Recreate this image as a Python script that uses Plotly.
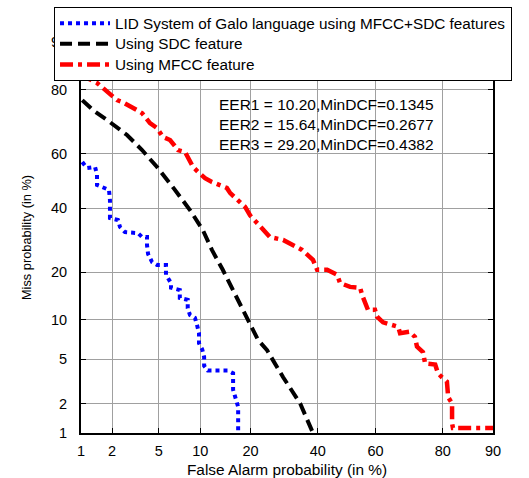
import plotly.graph_objects as go
from statistics import NormalDist

nd = NormalDist()
def probit(p_percent):
    return nd.inv_cdf(p_percent / 100.0)

# ---- data (percent) ----
blue_fa = [1.03, 1.15, 1.38, 1.44, 1.44, 1.65, 1.87, 1.91, 1.91, 2.26, 2.36, 2.61, 3.38, 3.66, 4.02, 4.02,
           4.10, 4.42, 4.84, 5.68, 5.68, 6.2, 6.2, 7.2, 7.2, 8.2, 8.2, 8.5, 9.2, 9.5, 9.8, 9.8,
           10.3, 10.6, 10.6, 11.2, 14.9, 16.0, 16.0, 17.1, 17.1]
blue_miss = [56.9, 54.7, 55.1, 52.2, 48.5, 47.7, 46.7, 43.0, 36.6, 35.9, 33.5, 31.8, 31.5, 30.2, 30.2, 27.7,
             25.0, 22.7, 21.9, 21.9, 19.3, 17.3, 16.2, 15.7, 14.0, 13.6, 12.0, 10.8, 10.3, 9.2, 8.0, 6.7,
             6.0, 5.2, 4.4, 4.0, 4.0, 3.8, 2.7, 1.85, 1.0]

black_fa = [1.03, 1.32, 1.91, 2.72, 3.66, 4.84, 6.4, 8.5, 10.4, 11.9, 13.9, 16.0, 19.2, 21.9, 24.3, 28.9, 34.2, 38.4]
black_miss = [77.2, 74.3, 70.6, 66.4, 61.2, 55.1, 47.7, 39.4, 32.5, 26.2, 20.6, 15.7, 10.5, 7.1, 5.9, 3.5, 2.0, 1.0]

red_fa = [1.0, 1.10, 1.44, 1.72, 1.91, 2.22, 2.46, 2.72, 3.32, 3.66, 4.25, 4.84, 5.39, 6.10, 6.98, 7.85, 8.24,
          8.93, 9.66, 10.75, 11.9, 13.4, 14.7, 15.4, 16.9, 18.7, 19.9, 23.2, 25.1, 28.9, 31.9, 34.8, 37.4,
          38.4, 39.8, 43.2, 46.7, 47.7, 51.2, 54.7, 55.4, 56.4, 57.4, 59.8, 60.5, 62.5, 64.8, 67.4, 68.0,
          71.0, 72.5, 73.1, 74.8, 75.4, 78.1, 78.8, 79.8, 81.0, 81.3, 82.2, 82.2, 82.4, 90.0]
red_miss = [84.0, 83.1, 81.7, 79.9, 78.6, 77.2, 76.7, 75.8, 74.3, 73.4, 70.3, 68.7, 65.7, 64.7, 61.2, 60.5, 58.4,
            55.1, 53.3, 51.0, 49.6, 48.5, 47.4, 45.5, 43.0, 40.5, 37.5, 32.5, 30.2, 29.3, 27.7, 26.2, 24.1,
            23.3, 20.6, 20.6, 19.3, 17.3, 16.4, 16.2, 14.6, 13.0, 11.7, 11.7, 10.5, 9.6, 9.2, 8.9, 8.0,
            8.2, 7.5, 6.3, 5.7, 4.6, 4.5, 3.8, 3.5, 3.2, 2.3, 2.0, 1.27, 1.13, 1.13]

tick_vals = [1, 2, 5, 10, 20, 40, 60, 80, 90]
tick_text = ["1", "2", "5", "10", "20", "40", "60", "80", "90"]

names = ["LID System of Galo language using MFCC+SDC features", "Using SDC feature", "Using MFCC feature"]
eer_text = ["EER1 = 10.20,MinDCF=0.1345", "EER2 = 15.64,MinDCF=0.2677", "EER3 = 29.20,MinDCF=0.4382"]
x_title = "False Alarm probability (in %)"
y_title = "Miss probability (in %)"

FONT = "Arial, Liberation Sans, sans-serif"

def legend_label(s):
    return '<span style="font-size:15.3px">' + s + '</span>'

fig = go.Figure()
fig.add_trace(go.Scatter(x=[probit(v) for v in blue_fa], y=[probit(v) for v in blue_miss], mode="lines",
                         name=legend_label(names[0]), line=dict(color="#0000ff", width=4, dash="4px,4px")))
fig.add_trace(go.Scatter(x=[probit(v) for v in black_fa], y=[probit(v) for v in black_miss], mode="lines",
                         name=legend_label(names[1]), line=dict(color="#000000", width=4, dash="12px,6px")))
fig.add_trace(go.Scatter(x=[probit(v) for v in red_fa], y=[probit(v) for v in red_miss], mode="lines",
                         name=legend_label(names[2]), line=dict(color="#ff0000", width=4.5, dash="13px,5px,4px,5px")))

axis_common = dict(
    range=[probit(1), probit(90)],
    tickvals=[probit(v) for v in tick_vals],
    ticktext=tick_text,
    showgrid=True, gridcolor="#a0a0a0", gridwidth=1,
    showline=True, linecolor="black", linewidth=2, mirror="ticks",
    ticks="inside", ticklen=5, tickcolor="black",
    tickfont=dict(family=FONT, size=14.5, color="black"),
    zeroline=False, automargin=False,
)
fig.update_xaxes(**axis_common, ticklabelstandoff=4,
                 title=dict(text=x_title, font=dict(family=FONT, size=15.4, color="black"), standoff=6))
fig.update_yaxes(**axis_common, ticklabelstandoff=9,
                 title=dict(text=y_title, font=dict(family=FONT, size=12.8, color="black"), standoff=16))

fig.add_annotation(xref="paper", yref="paper", x=0.331, y=0.868, xanchor="left", yanchor="top", align="left",
                   showarrow=False, text="<br>".join(eer_text),
                   font=dict(family=FONT, size=15.5, color="black"))

fig.update_layout(
    width=529, height=478,
    margin=dict(l=81, r=36, t=42, b=45, autoexpand=False),
    paper_bgcolor="white", plot_bgcolor="white",
    font=dict(family=FONT, size=14, color="black"),
    legend=dict(x=-0.0655, y=(433 - 7) / 391, xanchor="left", yanchor="top", bgcolor="white",
                bordercolor="black", borderwidth=1, font=dict(family=FONT, size=13.5, color="black"),
                tracegroupgap=0, itemwidth=50),
    showlegend=True,
)
fig.write_html("out.html")
